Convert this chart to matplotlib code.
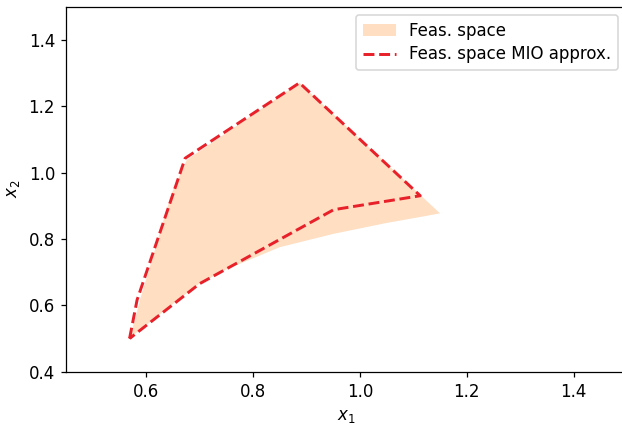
import matplotlib
matplotlib.use("Agg")
import matplotlib.pyplot as plt

# Feasible space boundary (x1, x2)
feas_x1 = [0.570, 0.592, 0.611, 0.629, 0.648, 0.676, 0.887, 1.150, 1.120, 1.050, 0.950, 0.850, 0.750, 0.700, 0.650, 0.600, 0.570]
feas_x2 = [0.503, 0.636, 0.737, 0.837, 0.938, 1.038, 1.270, 0.877, 0.868, 0.848, 0.815, 0.775, 0.708, 0.666, 0.604, 0.540, 0.503]

# MIO approximation polygon
mio_x1 = [0.569, 0.583, 0.673, 0.887, 1.113, 0.951, 0.700, 0.569]
mio_x2 = [0.500, 0.616, 1.043, 1.270, 0.930, 0.888, 0.665, 0.500]

DPI = 112
plt.rcParams["font.size"] = 10.7
fig = plt.figure(figsize=(622 / DPI, 425 / DPI), dpi=DPI)
ax = fig.add_axes([66 / 622, 53.3 / 425, (627 - 66) / 622, (371.7 - 6.5) / 425])

ax.fill(feas_x1, feas_x2, color="tab:orange", alpha=0.25, lw=0, label="Feas. space")
ax.plot(mio_x1, mio_x2, "--", color="#e8202a", lw=1.9, label="Feas. space MIO approx.")

ax.set_xlim(0.45, 1.5)
ax.set_ylim(0.4, 1.5)
ax.set_xticks([0.6, 0.8, 1.0, 1.2, 1.4])
ax.set_yticks([0.4, 0.6, 0.8, 1.0, 1.2, 1.4])
ax.set_xlabel("$x_1$")
ax.set_ylabel("$x_2$")
ax.legend(loc="upper right", bbox_to_anchor=(618 / 622, 1 - 15 / 425),
          bbox_transform=fig.transFigure, borderaxespad=0, labelspacing=0.35)

fig.savefig("out.png", dpi=DPI)
